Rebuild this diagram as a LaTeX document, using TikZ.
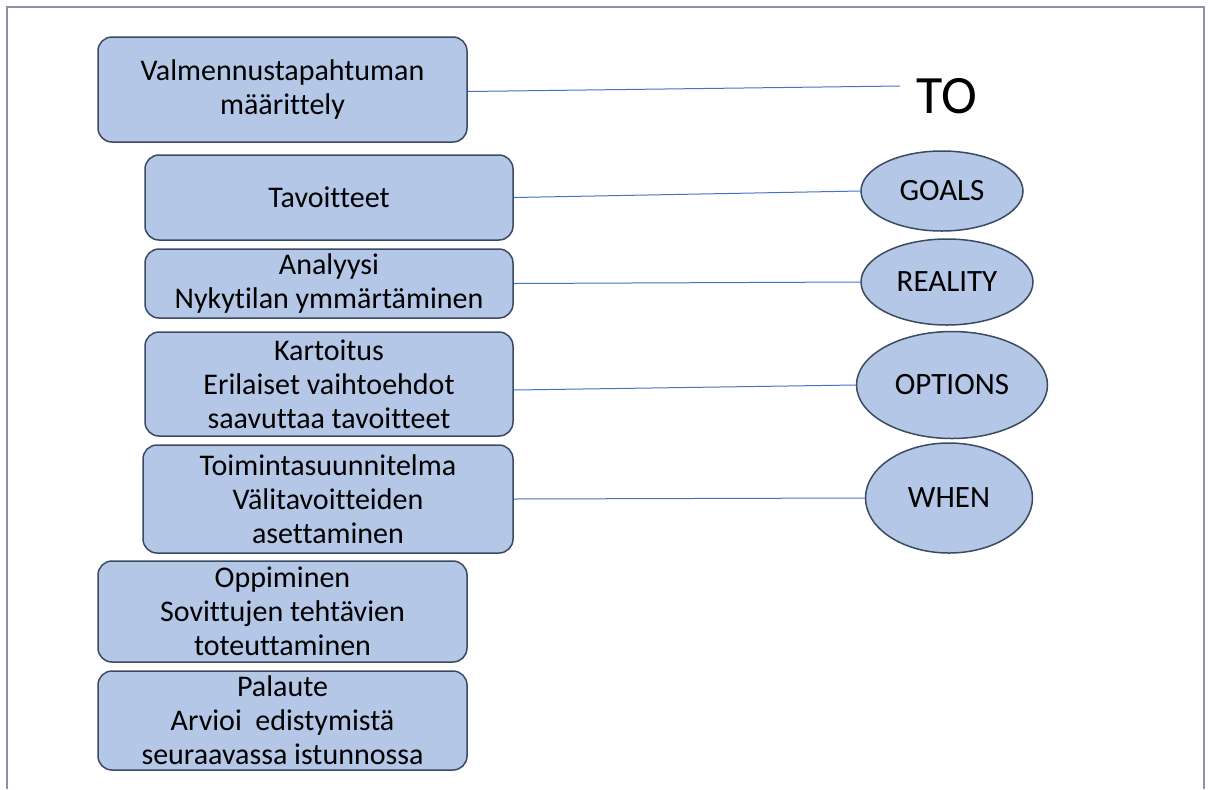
\documentclass[tikz,border=0pt]{standalone}
\usepackage{fontspec}
\setmainfont[Ligatures=NoCommon]{Carlito}
\usetikzlibrary{shapes.geometric}
\definecolor{boxfill}{HTML}{B4C7E7}
\definecolor{boxline}{HTML}{3B4A63}
\definecolor{conn}{HTML}{4472C4}
\definecolor{frame}{HTML}{8A93A6}
\tikzset{
  stepbox/.style={draw=boxline, fill=boxfill, line width=0.75pt, rounded corners=7pt,
    inner sep=0pt, align=center, font=\fontsize{15}{17}\selectfont},
  oval/.style={ellipse, draw=boxline, fill=boxfill, line width=0.75pt, inner sep=0pt,
    font=\fontsize{15.5}{18}\selectfont},
  link/.style={draw=conn, line width=0.5pt},
}
\begin{document}
\begin{tikzpicture}[x=0.5pt,y=-0.5pt]
\useasboundingbox (0,0) rectangle (1211,789);
\draw[frame, line width=1pt] (7,789) -- (7,7) -- (1204,7) -- (1204,789);

\node[stepbox, minimum width=184.5pt, minimum height=52.5pt] (b1) at (282.5,89.5) {Valmennustapahtuman\\määrittely};
\node[stepbox, minimum width=184pt, minimum height=42.5pt] (b2) at (329,197.5) {Tavoitteet};
\node[stepbox, minimum width=184pt, minimum height=34.5pt] (b3) at (329,283.5) {Analyysi\\Nykytilan ymmärtäminen};
\node[stepbox, minimum width=184pt, minimum height=52pt] (b4) at (329,384) {Kartoitus\\Erilaiset vaihtoehdot\\saavuttaa tavoitteet};
\node[stepbox, minimum width=185pt, minimum height=54pt] (b5) at (328,499) {Toimintasuunnitelma\\Välitavoitteiden\\asettaminen};
\node[stepbox, minimum width=184.5pt, minimum height=50.5pt] (b6) at (282.5,611.5) {Oppiminen\\Sovittujen tehtävien\\toteuttaminen};
\node[stepbox, minimum width=184.5pt, minimum height=49.5pt] (b7) at (282.5,720.5) {Palaute\\Arvioi\ \ edistymistä\\seuraavassa istunnossa};

\node[font=\fontsize{27}{30}\selectfont, inner sep=0pt] (to) at (947,96) {TO};
\coordinate (toend) at (900,86);

\node[oval, minimum width=81pt, minimum height=40pt] (g) at (942,191) {GOALS};
\node[oval, minimum width=86pt, minimum height=43pt] (r) at (947,282) {REALITY};
\node[oval, minimum width=95.5pt, minimum height=53.5pt] (o) at (952,385) {OPTIONS};
\node[oval, minimum width=83.5pt, minimum height=55pt] (w) at (949,498) {WHEN};

\draw[link] ([yshift=-1pt]b1.east) -- (toend);
\draw[link] (b2.east) -- (g.west);
\draw[link] (b3.east) -- (r.west);
\draw[link] ([yshift=-3pt]b4.east) -- (o.west);
\draw[link] (b5.east) -- (w.west);
\end{tikzpicture}
\end{document}
